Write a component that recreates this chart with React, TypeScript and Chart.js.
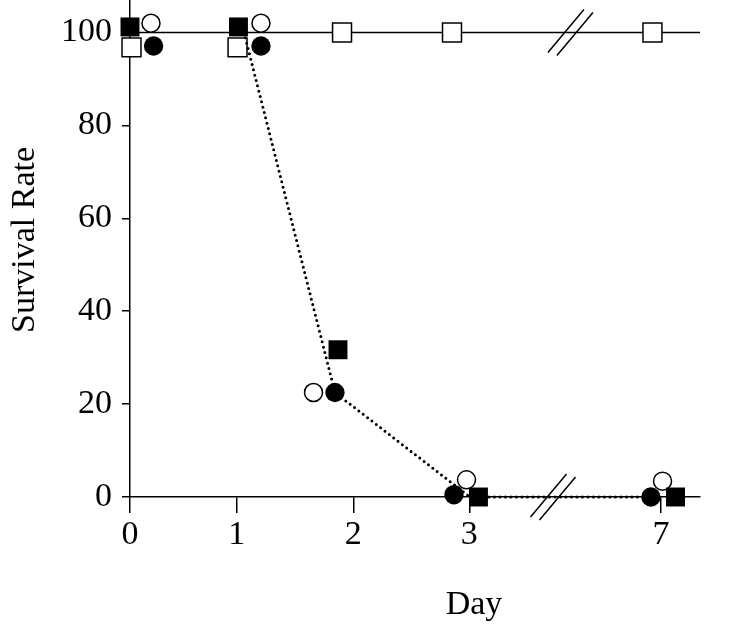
import React, { useEffect, useRef } from 'react';
import { Chart, registerables } from 'chart.js';

Chart.register(...registerables);

const FONT = '"Liberation Serif", "Times New Roman", serif';

// axis ticks
const dayLabels = ['0', '1', '2', '3', '7'];
const dayTickPos = [0, 0.92, 1.925, 2.925, 4.578];
const xMax = 4.914;
const yMax = 107;

// series (x = position on broken day axis, y = survival rate)
const filledSquareX = [0, 0.935, 1.793, 3.004, 4.703];
const filledSquareY = [101.2, 101.2, 31.7, 0, 0];
const openSquareX = [0.013, 0.927, 1.828, 2.776, 4.504];
const openSquareY = [96.8, 96.8, 100, 100, 100];
const openCircleX = [0.181, 1.129, 1.582, 2.901, 4.591];
const openCircleY = [102, 102, 22.5, 3.7, 3.4];
const filledCircleX = [0.203, 1.129, 1.767, 2.793, 4.491];
const filledCircleY = [97.1, 97.1, 22.5, 0.5, 0];
const trendX = [0.983, 1.767, 2.931, 4.491];
const trendY = [100, 22.5, 0, 0];
const refLineX = [0, xMax];
const refLineY = [100, 100];
const breakX = [3.647, 3.797];
const breakY = [0, 100];

const xTitle = 'Day';
const yTitle = 'Survival Rate';

const pts = (xs: number[], ys: number[]) => xs.map((x, i) => ({ x, y: ys[i] }));

const decorPlugin = {
  id: 'decor',
  afterDraw(chart: any) {
    const { ctx, scales } = chart;
    const xs = scales.x;
    const ys = scales.y;
    ctx.save();
    ctx.strokeStyle = '#000';
    ctx.lineWidth = 1.5;
    breakX.forEach((bx, i) => {
      const px = xs.getPixelForValue(bx);
      const py = ys.getPixelForValue(breakY[i]);
      [-4.5, 4.5].forEach((off) => {
        ctx.beginPath();
        ctx.moveTo(px + off - 18, py + off * 0.33 + 21.5);
        ctx.lineTo(px + off + 18, py + off * 0.33 - 21.5);
        ctx.stroke();
      });
    });
    ctx.fillStyle = '#000';
    ctx.font = `34px ${FONT}`;
    ctx.textAlign = 'center';
    ctx.textBaseline = 'alphabetic';
    ctx.fillText(xTitle, 474, 614);
    ctx.translate(34, 240);
    ctx.rotate(-Math.PI / 2);
    ctx.fillText(yTitle, 0, 0);
    ctx.restore();
  },
};

export default function App() {
  const ref = useRef<HTMLCanvasElement | null>(null);
  useEffect(() => {
    document.body.style.margin = '0';
    const canvas = ref.current;
    if (!canvas) return;
    const chart = new Chart(canvas, {
      type: 'scatter',
      data: {
        datasets: [
          {
            label: 'ref',
            data: pts(refLineX, refLineY),
            showLine: true,
            pointRadius: 0,
            borderColor: '#000',
            borderWidth: 1.5,
            order: 10,
          },
          {
            label: 'trend',
            data: pts(trendX, trendY),
            showLine: true,
            pointRadius: 0,
            borderColor: '#000',
            borderWidth: 3,
            borderDash: [0, 5.5],
            borderCapStyle: 'round',
            order: 3,
          },
          {
            label: 'open square',
            data: pts(openSquareX, openSquareY),
            pointStyle: 'rect',
            pointRadius: 13.4,
            backgroundColor: '#fff',
            borderColor: '#000',
            borderWidth: 1.5,
            order: 5,
          },
          {
            label: 'open circle',
            data: pts(openCircleX, openCircleY),
            pointStyle: 'circle',
            pointRadius: 9,
            backgroundColor: '#fff',
            borderColor: '#000',
            borderWidth: 1.5,
            order: 4,
          },
          {
            label: 'filled circle',
            data: pts(filledCircleX, filledCircleY),
            pointStyle: 'circle',
            pointRadius: 9.7,
            backgroundColor: '#000',
            borderColor: '#000',
            borderWidth: 0,
            order: 2,
          },
          {
            label: 'filled square',
            data: pts(filledSquareX, filledSquareY),
            pointStyle: 'rect',
            pointRadius: 13.4,
            backgroundColor: '#000',
            borderColor: '#000',
            borderWidth: 0,
            order: 1,
          },
        ] as any,
      },
      options: {
        animation: false,
        responsive: false,
        maintainAspectRatio: false,
        clip: false as any,
        layout: { autoPadding: false, padding: { left: 0, right: 36, top: 0, bottom: 0 } },
        plugins: { legend: { display: false }, tooltip: { enabled: false } },
        events: [],
        scales: {
          x: {
            type: 'linear',
            min: 0,
            max: xMax,
            border: { color: '#000', width: 1.5 },
            grid: { drawOnChartArea: false, drawTicks: true, tickLength: 16, color: '#000', lineWidth: 1.5 },
            ticks: {
              color: '#000',
              font: { family: FONT, size: 34 },
              padding: 2,
              autoSkip: false,
              maxRotation: 0,
              callback: (_v: any, i: number) => dayLabels[i],
            },
            afterBuildTicks: (scale: any) => {
              scale.ticks = dayTickPos.map((v) => ({ value: v }));
            },
            afterFit: (scale: any) => {
              scale.height = 135;
              scale.paddingLeft = 0;
              scale.paddingRight = 0;
              scale.paddingTop = 0;
              scale.paddingBottom = 0;
            },
          },
          y: {
            type: 'linear',
            min: 0,
            max: yMax,
            border: { color: '#000', width: 1.5 },
            grid: { drawOnChartArea: false, drawTicks: true, tickLength: 8, color: '#000', lineWidth: 1.5 },
            ticks: {
              color: '#000',
              font: { family: FONT, size: 34 },
              padding: 10,
              stepSize: 20,
              includeBounds: false,
            },
            afterFit: (scale: any) => {
              scale.width = 130;
              scale.paddingLeft = 0;
              scale.paddingRight = 0;
              scale.paddingTop = 0;
              scale.paddingBottom = 0;
            },
          },
        },
      } as any,
      plugins: [decorPlugin],
    });
    return () => chart.destroy();
  }, []);
  return (
    <div style={{ width: 736, height: 632, background: '#fff' }}>
      <canvas ref={ref} width={736} height={632} style={{ display: 'block' }} />
    </div>
  );
}
